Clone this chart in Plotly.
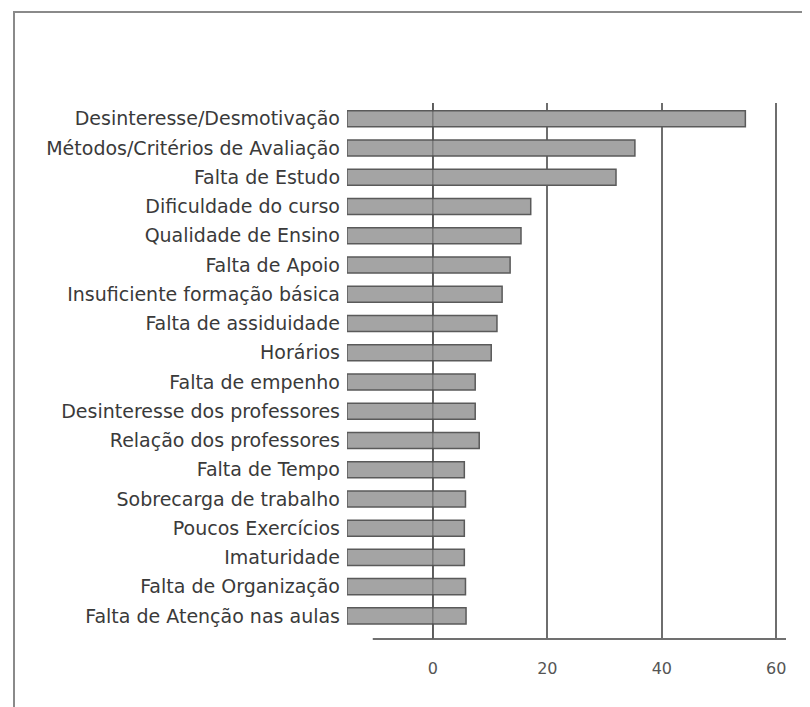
import plotly.graph_objects as go

# categories top to bottom
categories = [
    "Desinteresse/Desmotivação",
    "Métodos/Critérios de Avaliação",
    "Falta de Estudo",
    "Dificuldade do curso",
    "Qualidade de Ensino",
    "Falta de Apoio",
    "Insuficiente formação básica",
    "Falta de assiduidade",
    "Horários",
    "Falta de empenho",
    "Desinteresse dos professores",
    "Relação dos professores",
    "Falta de Tempo",
    "Sobrecarga de trabalho",
    "Poucos Exercícios",
    "Imaturidade",
    "Falta de Organização",
    "Falta de Atenção nas aulas",
]
values = [54.6, 35.3, 32.0, 17.1, 15.4, 13.5, 12.1, 11.2, 10.2, 7.4, 7.4, 8.1,
          5.5, 5.7, 5.5, 5.5, 5.7, 5.8]
tick_vals = [0, 20, 40, 60]

AXIS_START = -15
AXIS_END = 61.7

# page body adds an 8px offset, so the figure is 8px smaller
W, H = 802, 699
OFF = 8

fig = go.Figure()

fig.add_trace(go.Bar(
    y=categories,
    x=[v - AXIS_START for v in values],
    base=AXIS_START,
    orientation="h",
    width=0.55,
    marker=dict(color="#a4a4a4", line=dict(color="#5a5a5a", width=1.5)),
    hovertemplate="%{y}: %{customdata}<extra></extra>",
    customdata=values,
))

# plot area edges in figure pixels
L, R, T, B = 347 - OFF, 786 - OFF, 103 - OFF, 639 - OFF
pw, ph = R - L, B - T

# outer frame of the picture
fig.add_shape(type="rect", xref="paper", yref="paper",
              x0=(14 - OFF - L) / pw, x1=(808 - OFF - L) / pw,
              y0=(B - 720) / ph, y1=(B - (12 - OFF)) / ph,
              line=dict(color="#8a8a8a", width=2), layer="below")

# bottom axis line (starts a bit right of the bars)
fig.add_shape(type="line", xref="x", yref="paper",
              x0=-10.5, x1=AXIS_END, y0=0, y1=0,
              line=dict(color="#707070", width=2))

# zero line shows through the bars
fig.add_shape(type="line", xref="x", yref="paper",
              x0=0, x1=0, y0=0, y1=1,
              line=dict(color="rgba(70,70,70,0.55)", width=1.2), layer="above")

fig.update_layout(
    width=W, height=H,
    margin=dict(l=L, r=W - R, t=T, b=H - B),
    paper_bgcolor="white",
    plot_bgcolor="white",
    showlegend=False,
    font=dict(family="DejaVu Sans", color="#3a3a3a"),
)

fig.update_xaxes(
    range=[AXIS_START, AXIS_END],
    tickvals=tick_vals,
    ticktext=[str(t) for t in tick_vals],
    showgrid=True, gridcolor="#6e6e6e", gridwidth=1.5,
    zeroline=False, showline=False,
    ticks="", ticklabelstandoff=18,
    tickfont=dict(size=16, color="#555555", family="DejaVu Sans"),
)
fig.update_yaxes(
    categoryorder="array", categoryarray=categories,
    range=[17.79, -0.54],
    showgrid=False, zeroline=False, showline=False,
    ticks="", ticklabelstandoff=6,
    tickfont=dict(size=19, color="#3a3a3a", family="DejaVu Sans"),
)

fig.write_html("out.html")
